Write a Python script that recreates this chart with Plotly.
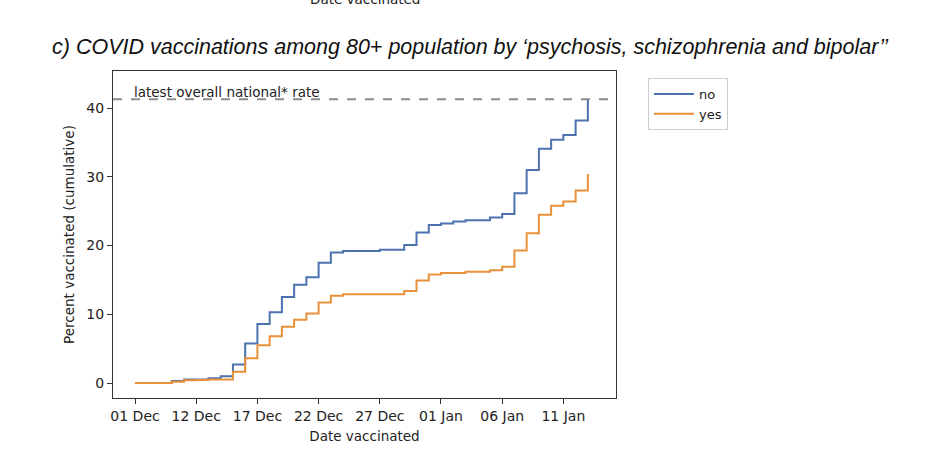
import pandas as pd
import plotly.graph_objects as go

# ---- data ----
dates = pd.date_range("2020-12-07", "2021-01-13", freq="D")
no_vals = [0.0, 0.0, 0.0, 0.3, 0.5, 0.5, 0.7, 1.0, 2.7, 5.75,
           8.6, 10.3, 12.5, 14.3, 15.4, 17.5, 19.0, 19.2, 19.2, 19.2,
           19.4, 19.4, 20.1, 21.9, 23.0, 23.2, 23.5, 23.7, 23.7, 24.1,
           24.6, 27.6, 31.0, 34.1, 35.4, 36.1, 38.2, 41.3]
yes_vals = [0.0, 0.0, 0.0, 0.2, 0.4, 0.45, 0.5, 0.5, 1.65, 3.6,
            5.5, 6.8, 8.2, 9.2, 10.1, 11.7, 12.7, 12.9, 12.9, 12.9,
            12.9, 12.9, 13.4, 14.9, 15.8, 16.0, 16.0, 16.2, 16.2, 16.4,
            16.9, 19.3, 21.8, 24.5, 25.8, 26.4, 28.0, 30.4]
national_rate = 41.3
tick_dates = ["2020-12-07", "2020-12-12", "2020-12-17", "2020-12-22",
              "2020-12-27", "2021-01-01", "2021-01-06", "2021-01-11"]
tick_labels = ["01 Dec", "12 Dec", "17 Dec", "22 Dec", "27 Dec",
               "01 Jan", "06 Jan", "11 Jan"]
y_ticks = [0, 10, 20, 30, 40]

BLUE = "#4c72b0"
ORANGE = "#e8913a"
AXFONT = "DejaVu Sans"

fig = go.Figure()
fig.add_trace(go.Scatter(x=dates, y=no_vals, mode="lines", name="no",
                         line=dict(color=BLUE, width=2, shape="hv")))
fig.add_trace(go.Scatter(x=dates, y=yes_vals, mode="lines", name="yes",
                         line=dict(color=ORANGE, width=2, shape="hv")))

fig.add_hline(y=national_rate, line=dict(color="#8c8c8c", width=2, dash="dash"))

fig.add_annotation(x=dates[0], y=national_rate, xref="x", yref="y",
                   text="latest overall national* rate", showarrow=False,
                   xanchor="left", yanchor="bottom", yshift=-3, xshift=-3,
                   font=dict(family=AXFONT, size=13.5, color="#222"))

# title of this panel
fig.add_annotation(x=0.7117, y=1.0734, xref="paper", yref="paper",
                   text="<i>c) COVID vaccinations among 80+ population by ‘psychosis, schizophrenia and bipolar’’</i>",
                   showarrow=False, xanchor="center", yanchor="middle",
                   font=dict(family="Liberation Sans", size=21.5, color="#111"))

# axis title of the previous panel, cut at the top edge as in the reference
fig.add_annotation(x=0.5, y=1.1896, xref="paper", yref="paper",
                   text="Date vaccinated", showarrow=False,
                   xanchor="center", yanchor="bottom",
                   font=dict(family=AXFONT, size=13.5, color="#222"))

fig.update_layout(
    width=932, height=456,
    margin=dict(l=113, r=316, t=71, b=58),
    paper_bgcolor="white", plot_bgcolor="white",
    showlegend=True,
    legend=dict(x=1.0636, y=0.9786, xanchor="left", yanchor="top",
                bgcolor="white", bordercolor="#cccccc", borderwidth=1,
                font=dict(family=AXFONT, size=13, color="#222"),
                tracegroupgap=0, itemwidth=40),
    font=dict(family=AXFONT, size=14, color="#222"),
)

fig.update_xaxes(
    type="date",
    range=["2020-12-05 04:48", "2021-01-15 07:12"],
    tickvals=tick_dates, ticktext=tick_labels,
    showgrid=False, zeroline=False,
    showline=True, linecolor="#333", linewidth=1.2, mirror=True,
    ticks="outside", ticklen=5, tickwidth=1, tickcolor="#333",
    tickfont=dict(family=AXFONT, size=14, color="#222"),
    title=dict(text="Date vaccinated", standoff=8,
               font=dict(family=AXFONT, size=13.5, color="#222")),
)
fig.update_yaxes(
    range=[-2.18, 45.4],
    tickvals=y_ticks,
    showgrid=False, zeroline=False,
    showline=True, linecolor="#333", linewidth=1.2, mirror=True,
    ticks="outside", ticklen=5, tickwidth=1, tickcolor="#333",
    tickfont=dict(family=AXFONT, size=14, color="#222"),
    title=dict(text="Percent vaccinated (cumulative)", standoff=8,
               font=dict(family=AXFONT, size=13.5, color="#222")),
)

fig.write_html("out.html",
               config={"displayModeBar": False},
               post_script="document.body.style.margin='0px';")
